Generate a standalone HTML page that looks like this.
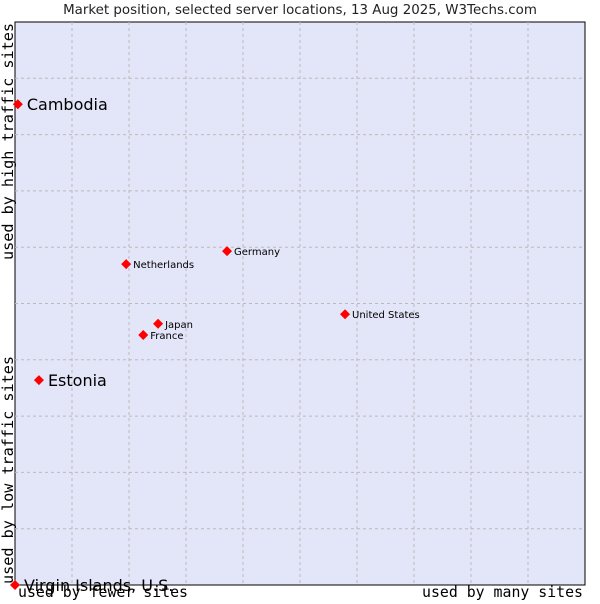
<!DOCTYPE html>
<html><head><meta charset="utf-8"><style>
body{margin:0;background:#fff;width:600px;height:600px;overflow:hidden;font-family:"DejaVu Sans","Liberation Sans",sans-serif}
</style></head><body>
<svg id="chart" width="600" height="600" xmlns="http://www.w3.org/2000/svg">
<text x="300" y="14" text-anchor="middle" font-size="13.4" fill="#222">Market position, selected server locations, 13 Aug 2025, W3Techs.com</text>
<rect x="15" y="22" width="570" height="563" fill="#e3e5f8" stroke="#000" stroke-width="1"/>
<g id="grid"></g>
<g id="pts"></g>
<text transform="translate(13,260) rotate(-90)" font-family="'DejaVu Sans Mono','Liberation Mono',monospace" font-size="15" fill="#000" textLength="237" lengthAdjust="spacingAndGlyphs">used by high traffic sites</text>
<text transform="translate(13,584) rotate(-90)" font-family="'DejaVu Sans Mono','Liberation Mono',monospace" font-size="15" fill="#000" textLength="228" lengthAdjust="spacingAndGlyphs">used by low traffic sites</text>
<text x="18" y="597" font-family="'DejaVu Sans Mono','Liberation Mono',monospace" font-size="15" fill="#000" textLength="170" lengthAdjust="spacingAndGlyphs">used by fewer sites</text>
<text x="422" y="597" font-family="'DejaVu Sans Mono','Liberation Mono',monospace" font-size="15" fill="#000" textLength="161" lengthAdjust="spacingAndGlyphs">used by many sites</text>
</svg>
<script>
const names=["Cambodia","Estonia","Virgin Islands, U.S.","Netherlands","Germany","United States","Japan","France"];
const xVals=[0.005,0.042,0.0,0.195,0.372,0.579,0.251,0.225];
const yVals=[0.854,0.364,0.0,0.570,0.593,0.481,0.464,0.444];
const big=[true,true,true,false,false,false,false,false];
const L=15,T=22,W=570,H=563,NS="http://www.w3.org/2000/svg";
const sx=v=>L+v*W, sy=v=>T+H-v*H;
const g=document.getElementById('grid');
for(let i=1;i<10;i++){
 const vx=document.createElementNS(NS,'line');
 
 
 const x=sx(i/10);vx.setAttribute('x1',x);vx.setAttribute('x2',x);vx.setAttribute('y1',T);vx.setAttribute('y2',T+H);
 vx.setAttribute('stroke','#bbb');vx.setAttribute('stroke-dasharray','3,3');g.appendChild(vx);
 const hy=document.createElementNS(NS,'line');
 
 
 const y=sy(i/10);hy.setAttribute('y1',y);hy.setAttribute('y2',y);hy.setAttribute('x1',L);hy.setAttribute('x2',L+W);
 hy.setAttribute('stroke','#bbb');hy.setAttribute('stroke-dasharray','3,3');g.appendChild(hy);
}
const p=document.getElementById('pts');
names.forEach((n,i)=>{
 const x=sx(xVals[i]),y=sy(yVals[i]);
 const d=document.createElementNS(NS,'path');
 
 
 d.setAttribute('d',`M${x},${y-5}L${x+5},${y}L${x},${y+5}L${x-5},${y}Z`);
 d.setAttribute('fill','#f00');p.appendChild(d);
 const t=document.createElementNS(NS,'text');
 
 
 t.setAttribute('x',x+(big[i]?9:7));t.setAttribute('y',y+(big[i]?6:4));
 t.setAttribute('font-size',big[i]?'16':'10');t.setAttribute('fill','#000');
 t.textContent=n;p.appendChild(t);
});
</script>
</body></html>
